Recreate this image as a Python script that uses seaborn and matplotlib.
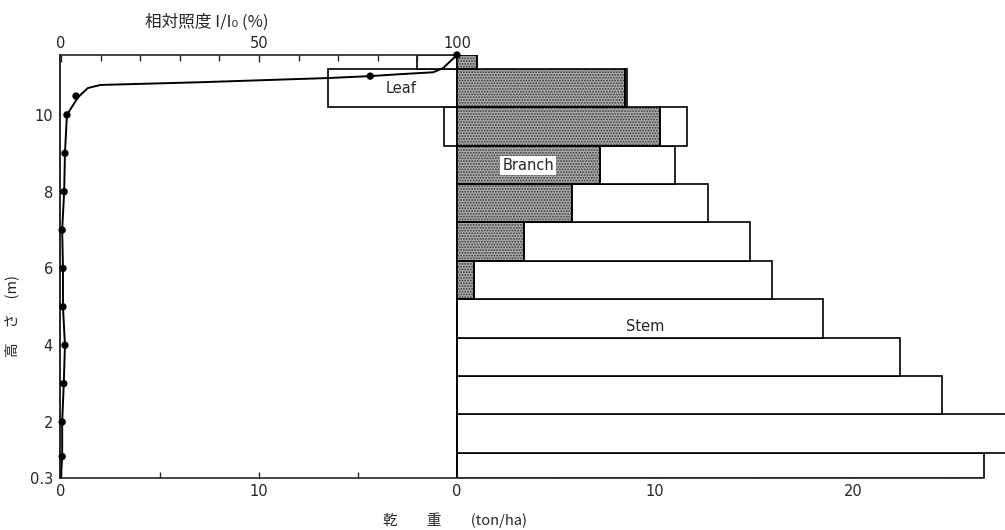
import numpy as np
import matplotlib.pyplot as plt
import seaborn as sns

# layers (m) - bottom / top of each stratum
layer_bottom = [0.54, 1.2, 2.2, 3.2, 4.2, 5.2, 6.2, 7.2, 8.2, 9.2, 10.2, 11.2]
layer_top = [1.2, 2.2, 3.2, 4.2, 5.2, 6.2, 7.2, 8.2, 9.2, 10.2, 11.2, 11.56]

# dry weight (ton/ha) per layer
leaf = [0, 0, 0, 0, 0, 0, 0, 0, 0, 0.65, 6.5, 2.0]
branch = [0, 0, 0, 0, 0, 0.85, 3.4, 5.8, 7.2, 10.25, 8.5, 1.0]
stem = [26.6, 27.8, 24.5, 22.4, 18.5, 15.05, 11.4, 6.9, 3.8, 1.35, 0.1, 0]

# relative light intensity I/Io (%) measured at heights
light_h = [11.56, 11.01, 10.49, 10.0, 9.0, 8.0, 7.0, 6.0, 5.0, 4.0, 3.0, 2.0, 1.1]
light_pct = [100, 78.1, 3.8, 1.5, 1.0, 0.8, 0.3, 0.5, 0.5, 1.0, 0.7, 0.3, 0.3]

# hand drawn curve through the points
curve_h = [11.56, 11.22, 11.11, 11.06, 11.01, 10.96, 10.85, 10.78, 10.70, 10.46,
           10.0, 9.0, 8.0, 7.0, 6.0, 5.0, 4.0, 3.0, 2.0, 1.1, 0.54]
curve_pct = [100, 96.5, 94, 85.6, 78.1, 67.5, 35, 10, 6.8, 4.3,
             1.5, 1.0, 0.8, 0.3, 0.5, 0.5, 1.0, 0.7, 0.3, 0.3, 0.0]

ytick_pos = [0.54, 2, 4, 6, 8, 10]
ytick_lab = ['0.3', '2', '4', '6', '8', '10']
xtick_pos = [-20, -15, -10, -5, 0, 5, 10, 15, 20, 25]
xtick_lab = ['0', '', '10', '', '0', '', '10', '', '20', '']

sns.set_theme(style='ticks')
plt.rcParams['font.family'] = ['DejaVu Sans']
plt.rcParams['hatch.linewidth'] = 0.9
jp = ['Noto Sans CJK JP', 'DejaVu Sans']

fig = plt.figure(figsize=(10.05, 5.30), dpi=100)
ax = fig.add_axes([60 / 1005, 52 / 530, 945 / 1005, 423 / 530])

xmin, xmax = -20.05, 27.68
ax.set_xlim(xmin, xmax)
ax.set_ylim(0.54, 11.56)

hgt = np.array(layer_top) - np.array(layer_bottom)

# leaf (to the left)
ax.barh(layer_bottom, -np.array(leaf), height=hgt, align='edge', left=0,
        facecolor='white', edgecolor='black', linewidth=1.2, zorder=2)
# branch (stippled)
ax.barh(layer_bottom, branch, height=hgt, align='edge', left=0,
        facecolor='#a9a9a9', hatch='......', edgecolor='#3c3c3c', linewidth=0, zorder=2)
ax.barh(layer_bottom, branch, height=hgt, align='edge', left=0,
        fill=False, edgecolor='black', linewidth=1.2, zorder=3)
# stem
ax.barh(layer_bottom, stem, height=hgt, align='edge', left=branch,
        facecolor='white', edgecolor='black', linewidth=1.2, zorder=2)

ax.text(-2.8, 10.7, 'Leaf', ha='center', va='center', fontsize=10.5, zorder=5)
ax.text(3.6, 8.69, 'Branch', ha='center', va='center', fontsize=10.5, zorder=5,
        bbox=dict(facecolor='white', edgecolor='none', pad=1.5))
ax.text(9.5, 4.49, 'Stem', ha='center', va='center', fontsize=10.5, zorder=5)

ax.set_xticks(xtick_pos)
ax.set_xticklabels(xtick_lab, fontsize=10.5)
ax.set_yticks(ytick_pos)
ax.set_yticklabels(ytick_lab, fontsize=10.5)
ax.tick_params(axis='x', direction='in', length=4, width=1, pad=4)
ax.tick_params(axis='y', length=0, pad=5)
for s in ['top', 'right']:
    ax.spines[s].set_visible(False)
ax.spines['bottom'].set_bounds(-20, 26.6)
ax.spines['left'].set_linewidth(1.4)
ax.spines['bottom'].set_linewidth(1.2)

# top axis: relative illuminance
ax_top = ax.twiny()
ax_top.set_xlim((xmin + 20) * 5, (xmax + 20) * 5)
sns.lineplot(x=curve_pct, y=curve_h, sort=False, estimator=None, color='black',
             linewidth=1.4, ax=ax_top)
sns.scatterplot(x=light_pct, y=light_h, color='black', s=28, edgecolor='none',
                ax=ax_top, clip_on=False, zorder=6)
ax_top.set_ylim(0.54, 11.56)
for s in ['left', 'right', 'bottom']:
    ax_top.spines[s].set_visible(False)
ax_top.spines['top'].set_bounds(0, 100)
ax_top.spines['top'].set_linewidth(1.2)
ax_top.set_xticks([0, 50, 100])
ax_top.set_xticklabels(['0', '50', '100'], fontsize=10.5)
ax_top.set_xticks(range(10, 100, 10), minor=True)
ax_top.tick_params(axis='x', which='major', direction='in', length=5, width=1, pad=3)
ax_top.tick_params(axis='x', which='minor', direction='in', length=4, width=1)
ax_top.set_xlabel('')
ax_top.set_ylabel('')

fig.text(207 / 1005, 1 - 22 / 530, '相対照度 I/I₀ (%)', ha='center', va='center',
         fontsize=12, family=jp)
fig.text(455 / 1005, 1 - 520 / 530, '乾　　重　　(ton/ha)', ha='center', va='center',
         fontsize=10.5, family=jp)
fig.text(12 / 1005, 1 - 316 / 530, '高　さ　(m)', ha='center', va='center',
         rotation=90, fontsize=10.5, family=jp)

fig.savefig('out.png', dpi=100)
